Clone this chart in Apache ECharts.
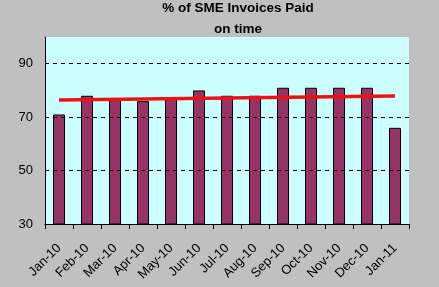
<!DOCTYPE html>
<html><head><meta charset="utf-8">
<script src="https://cdn.jsdelivr.net/npm/echarts@6/dist/echarts.min.js"></script>
<style>html,body{margin:0;padding:0;background:#c0c0c0}#c{width:439px;height:287px}</style>
</head><body><div id="c"></div>
<script>
var categories = ['Jan-10','Feb-10','Mar-10','Apr-10','May-10','Jun-10','Jul-10','Aug-10','Sep-10','Oct-10','Nov-10','Dec-10','Jan-11'];
var paidOnTime = [71, 78, 77, 76, 77, 80, 78, 78, 81, 81, 81, 81, 66];
var trendLine = [76.4, null, null, null, null, null, null, null, null, null, null, null, 77.9];
var yLabels = [30, 50, 70, 90];
var gridValues = [50, 70, 90];

var chart = echarts.init(document.getElementById('c'));
var font = 'Liberation Sans, Arial, sans-serif';
chart.setOption({
  backgroundColor: '#c0c0c0',
  animation: false,
  title: {
    text: '% of SME Invoices Paid\non time',
    left: 238, top: -2, padding: 0, textAlign: 'center',
    textStyle: {fontFamily: font, fontSize: 13.5, fontWeight: 'bold', color: '#000', lineHeight: 21}
  },
  grid: {left: 45, right: 30, top: 37, bottom: 63, show: true, backgroundColor: '#ccffff', borderWidth: 0},
  xAxis: {
    type: 'category', data: categories,
    axisLine: {lineStyle: {color: '#000', width: 1}},
    axisTick: {show: true, alignWithLabel: false, length: 5, lineStyle: {color: '#000'}},
    axisLabel: {rotate: 45, color: '#000', fontFamily: font, fontSize: 13, margin: 22, interval: 0}
  },
  yAxis: {
    type: 'value', min: 30, max: 100, interval: 10,
    axisLine: {show: true, lineStyle: {color: '#000', width: 1}},
    axisTick: {show: false},
    splitLine: {show: false},
    axisLabel: {color: '#000', fontFamily: font, fontSize: 13, margin: 12,
      formatter: function (v) { return yLabels.indexOf(v) >= 0 ? String(v) : ''; }}
  },
  series: [
    {
      type: 'bar', data: paidOnTime, barWidth: 12,
      itemStyle: {color: '#993366', borderColor: '#000', borderWidth: 1},
      markLine: {
        silent: true, symbol: 'none', label: {show: false},
        lineStyle: {color: '#000', type: [4, 4], width: 1},
        data: gridValues.map(function (v) { return {yAxis: v}; })
      },
      z: 2
    },
    {
      type: 'line', data: trendLine, connectNulls: true, symbol: 'none',
      lineStyle: {color: '#ee1111', width: 3.5}, z: 3
    }
  ]
});
</script></body></html>
